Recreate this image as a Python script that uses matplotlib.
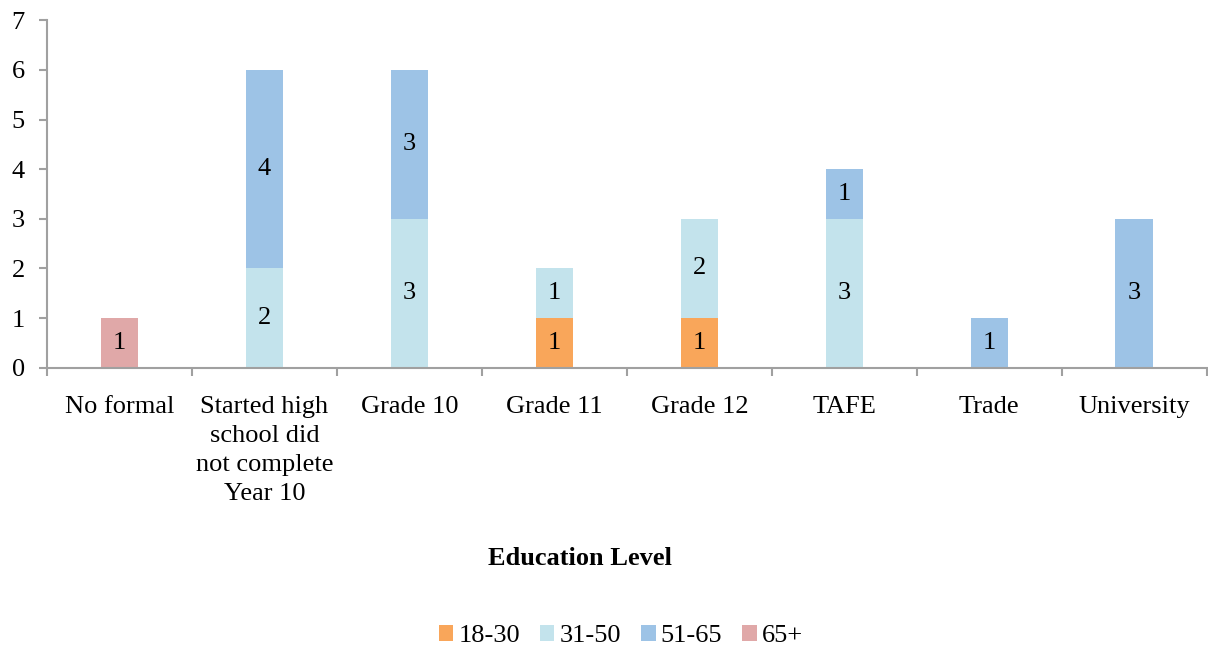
import matplotlib.pyplot as plt
import numpy as np

plt.rcParams['font.family'] = ['Liberation Serif', 'DejaVu Serif']

categories = ["No formal", "Started high\nschool did\nnot complete\nYear 10", "Grade 10",
              "Grade 11", "Grade 12", "TAFE", "Trade", "University"]
age_groups = ["18-30", "31-50", "51-65", "65+"]
counts = {
    "18-30": [0, 0, 0, 1, 1, 0, 0, 0],
    "31-50": [0, 2, 3, 1, 2, 3, 0, 0],
    "51-65": [0, 4, 3, 0, 0, 1, 1, 3],
    "65+":   [1, 0, 0, 0, 0, 0, 0, 0],
}
colors = {"18-30": "#F9A65A", "31-50": "#C3E3EC", "51-65": "#9DC3E6", "65+": "#E0A8A8"}

FS = 19

fig = plt.figure(figsize=(12.08, 6.52), dpi=100)
ax = fig.add_axes([0.039, 0.436, 0.96, 0.533])

x = np.arange(len(categories))
bottom = np.zeros(len(categories))
for grp in age_groups:
    vals = np.array(counts[grp], dtype=float)
    ax.bar(x, vals, 0.26, bottom=bottom, color=colors[grp], label=grp)
    for xi, b, v in zip(x, bottom, vals):
        if v > 0:
            ax.text(xi, b + v / 2, f"{int(v)}", ha="center", va="center", fontsize=FS)
    bottom += vals

ax.set_xlim(-0.5, len(categories) - 0.5)
ax.set_ylim(0, 7)
ax.set_yticks(range(8))
ax.set_xticks(x)
ax.set_xticklabels(categories, fontsize=FS, linespacing=1.42)
ax.set_xticks(np.arange(-0.5, len(categories), 1), minor=True)
ax.tick_params(axis="x", which="major", length=0, pad=20)
ax.tick_params(axis="x", which="minor", length=6, color="#A0A0A0", width=1.5)
ax.tick_params(axis="y", labelsize=FS, length=6, color="#A0A0A0", width=1.5, pad=10)

for side in ("top", "right"):
    ax.spines[side].set_visible(False)
for side in ("left", "bottom"):
    ax.spines[side].set_color("#A0A0A0")
    ax.spines[side].set_linewidth(1.5)

fig.text(0.48, 0.143, "Education Level", ha="center", va="center",
         fontsize=FS, fontweight="bold")
fig.legend(loc="center", bbox_to_anchor=(0.514, 0.024), ncol=4, frameon=False,
           fontsize=FS, handlelength=0.55, handleheight=0.55, handletextpad=0.2,
           columnspacing=0.75)

fig.savefig("out.png", dpi=100)
